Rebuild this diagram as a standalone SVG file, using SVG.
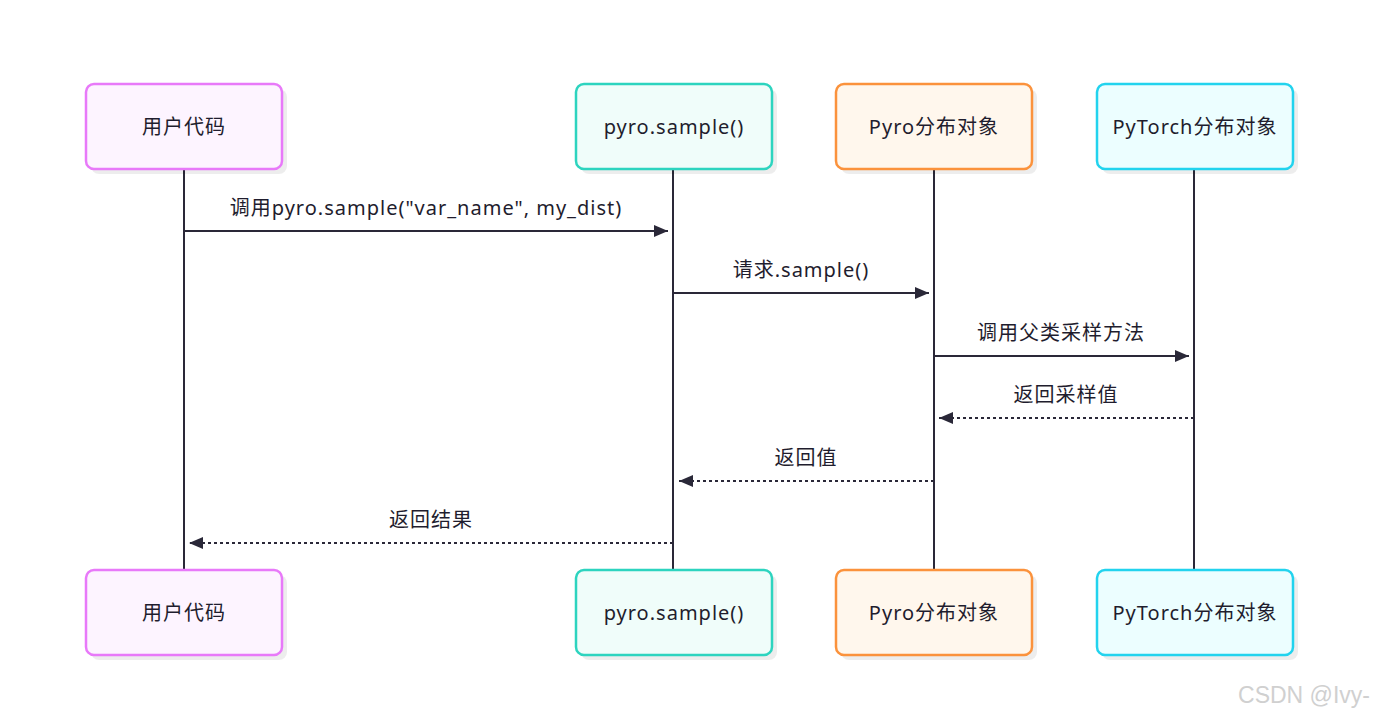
<svg xmlns="http://www.w3.org/2000/svg" width="1376" height="718" viewBox="0 0 1376 718">
<defs>
<style>
.box{stroke-width:2.5}
.shadow{fill:#000;opacity:0.07}
.lbl{font-family:"Noto Sans","Noto Sans CJK SC",sans-serif;font-size:20px;letter-spacing:1px;fill:#1f1d2e;text-anchor:middle;dominant-baseline:central}
.life{stroke:#2a2838;stroke-width:2;fill:none}
.msg{stroke:#2a2838;stroke-width:2;fill:none}
.dash{stroke-dasharray:3 3}
.mtxt{font-family:"Noto Sans","Noto Sans CJK SC",sans-serif;font-size:20px;letter-spacing:1px;fill:#1f1d2e;text-anchor:middle}
</style>
<marker id="ah" viewBox="0 0 14 12" refX="14" refY="6" markerWidth="14" markerHeight="12" markerUnits="userSpaceOnUse" orient="auto">
<path d="M0,0 L14,6 L0,12 z" fill="#2a2838"/>
</marker>
</defs>
<rect width="1376" height="718" fill="#ffffff"/>
<g id="lifelines">
<line class="life" x1="184" y1="169" x2="184" y2="570"/>
<line class="life" x1="673" y1="169" x2="673" y2="570"/>
<line class="life" x1="934" y1="169" x2="934" y2="570"/>
<line class="life" x1="1194" y1="169" x2="1194" y2="570"/>
</g>
<g id="node-user-top">
<rect class="shadow" x="91" y="89" width="196" height="85" rx="8"/>
<rect class="box" x="86" y="84" width="196" height="85" rx="8" fill="#fdf4ff" stroke="#e879f9"/>
<text class="lbl" x="184" y="126.5">用户代码</text>
</g>
<g id="node-sample-top">
<rect class="shadow" x="581" y="89" width="196" height="85" rx="8"/>
<rect class="box" x="576" y="84" width="196" height="85" rx="8" fill="#f0fdfa" stroke="#2dd4bf"/>
<text class="lbl" x="674" y="126.5">pyro.sample()</text>
</g>
<g id="node-pyro-top">
<rect class="shadow" x="841" y="89" width="196" height="85" rx="8"/>
<rect class="box" x="836" y="84" width="196" height="85" rx="8" fill="#fff7ed" stroke="#fb923c"/>
<text class="lbl" x="934" y="126.5">Pyro分布对象</text>
</g>
<g id="node-torch-top">
<rect class="shadow" x="1102" y="89" width="196" height="85" rx="8"/>
<rect class="box" x="1097" y="84" width="196" height="85" rx="8" fill="#ecfeff" stroke="#22d3ee"/>
<text class="lbl" x="1195" y="126.5">PyTorch分布对象</text>
</g>
<g id="node-user-bottom">
<rect class="shadow" x="91" y="575" width="196" height="85" rx="8"/>
<rect class="box" x="86" y="570" width="196" height="85" rx="8" fill="#fdf4ff" stroke="#e879f9"/>
<text class="lbl" x="184" y="612.5">用户代码</text>
</g>
<g id="node-sample-bottom">
<rect class="shadow" x="581" y="575" width="196" height="85" rx="8"/>
<rect class="box" x="576" y="570" width="196" height="85" rx="8" fill="#f0fdfa" stroke="#2dd4bf"/>
<text class="lbl" x="674" y="612.5">pyro.sample()</text>
</g>
<g id="node-pyro-bottom">
<rect class="shadow" x="841" y="575" width="196" height="85" rx="8"/>
<rect class="box" x="836" y="570" width="196" height="85" rx="8" fill="#fff7ed" stroke="#fb923c"/>
<text class="lbl" x="934" y="612.5">Pyro分布对象</text>
</g>
<g id="node-torch-bottom">
<rect class="shadow" x="1102" y="575" width="196" height="85" rx="8"/>
<rect class="box" x="1097" y="570" width="196" height="85" rx="8" fill="#ecfeff" stroke="#22d3ee"/>
<text class="lbl" x="1195" y="612.5">PyTorch分布对象</text>
</g>
<g id="connectors">
<line class="msg" x1="184" y1="231" x2="668" y2="231" marker-end="url(#ah)"/>
<text class="mtxt" x="426" y="215">调用pyro.sample("var_name", my_dist)</text>
<line class="msg" x1="673" y1="293" x2="929" y2="293" marker-end="url(#ah)"/>
<text class="mtxt" x="801" y="277">请求.sample()</text>
<line class="msg" x1="934" y1="356" x2="1189" y2="356" marker-end="url(#ah)"/>
<text class="mtxt" x="1061" y="340">调用父类采样方法</text>
<line class="msg dash" x1="1194" y1="418" x2="939" y2="418" marker-end="url(#ah)"/>
<text class="mtxt" x="1066" y="402">返回采样值</text>
<line class="msg dash" x1="934" y1="481" x2="679" y2="481" marker-end="url(#ah)"/>
<text class="mtxt" x="806" y="465">返回值</text>
<line class="msg dash" x1="673" y1="543" x2="189" y2="543" marker-end="url(#ah)"/>
<text class="mtxt" x="431" y="527">返回结果</text>
</g>
<text x="1370" y="703" font-family="Liberation Sans, Arial, sans-serif" font-size="23" fill="#d0d0d0" text-anchor="end">CSDN @Ivy-</text>
</svg>
